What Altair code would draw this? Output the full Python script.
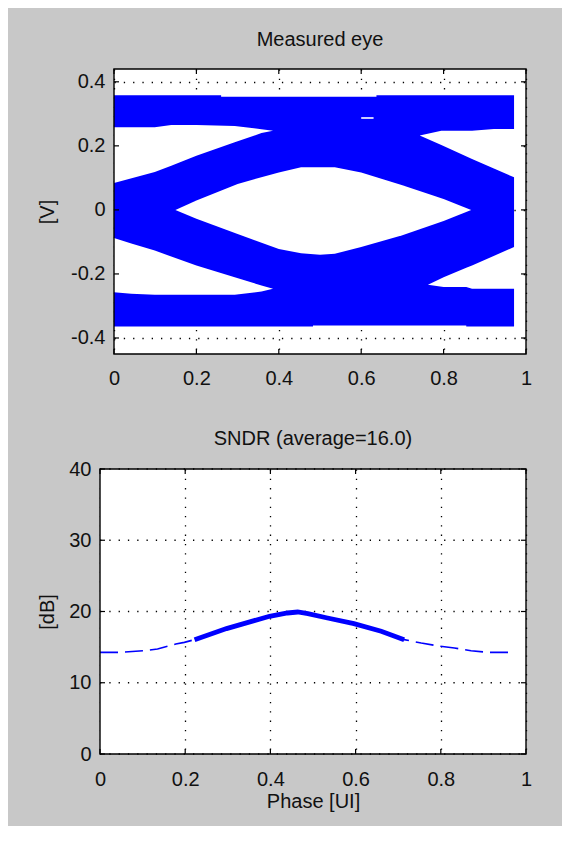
import altair as alt
import pandas as pd

# ---------------- data ----------------
x_ticks = [0, 0.2, 0.4, 0.6, 0.8, 1.0]
eye_y_ticks = [-0.4, -0.2, 0, 0.2, 0.4]
sndr_y_ticks = [0, 10, 20, 30, 40]

# outer extent of the (filled) eye traces
band_x = [0.0, 0.26, 0.26, 0.483, 0.483, 0.637, 0.637, 0.855, 0.855, 0.971]
band_top = [0.358, 0.358, 0.353, 0.353, 0.353, 0.353, 0.358, 0.358, 0.358, 0.358]
band_bottom = [-0.364, -0.364, -0.364, -0.364, -0.361, -0.361, -0.361, -0.361, -0.364, -0.364]

# open (white) regions inside the traces
ul_x = [0.0, 0.099, 0.139, 0.2, 0.293, 0.358, 0.386]
ul_top = [0.258, 0.258, 0.265, 0.265, 0.262, 0.252, 0.247]
ul_bottom = [0.084, 0.118, 0.138, 0.169, 0.211, 0.240, 0.247]

ll_x = [0.0, 0.042, 0.099, 0.2, 0.293, 0.358, 0.386]
ll_top = [-0.088, -0.105, -0.127, -0.174, -0.210, -0.236, -0.246]
ll_bottom = [-0.257, -0.262, -0.265, -0.265, -0.265, -0.255, -0.246]

ur_x = [0.742, 0.7945, 0.869, 0.922, 0.971, 0.985]
ur_top = [0.232, 0.247, 0.247, 0.2525, 0.2525, 0.2525]
ur_bottom = [0.232, 0.203, 0.159, 0.129, 0.102, 0.095]

lr_x = [0.762, 0.8, 0.855, 0.869, 0.971, 0.985]
lr_top = [-0.234, -0.21, -0.181, -0.1735, -0.116, -0.108]
lr_bottom = [-0.234, -0.241, -0.241, -0.246, -0.246, -0.246]

eye_x = [0.149, 0.2, 0.3, 0.4, 0.454, 0.5, 0.536, 0.6, 0.7, 0.8, 0.867]
eye_top = [0.0, 0.029, 0.081, 0.117, 0.133, 0.133, 0.133, 0.117, 0.077, 0.034, 0.0]
eye_bottom = [0.0, -0.028, -0.075, -0.122, -0.135, -0.140, -0.137, -0.116, -0.079, -0.035, 0.0]

gap_x = [0.60]
gap_x2 = [0.63]
gap_y = [0.287]

sndr_x = [0, 0.049, 0.104, 0.135, 0.178, 0.198, 0.222, 0.297, 0.362, 0.398, 0.44,
          0.464, 0.488, 0.534, 0.596, 0.66, 0.714, 0.754, 0.799, 0.832, 0.871, 0.91, 0.965]
sndr_y = [14.27, 14.27, 14.5, 14.74, 15.44, 15.67, 16.05, 17.6, 18.72, 19.33, 19.79,
          19.93, 19.7, 19.09, 18.3, 17.22, 16.05, 15.58, 15.12, 14.88, 14.5, 14.27, 14.27]
thick_from, thick_to = 0.222, 0.714

# ---------------- tables ----------------
band_df = pd.DataFrame({"x": band_x, "top": band_top, "bottom": band_bottom})
rows = []
for name, xs, ts, bs in [("ul", ul_x, ul_top, ul_bottom), ("ll", ll_x, ll_top, ll_bottom),
                         ("ur", ur_x, ur_top, ur_bottom), ("lr", lr_x, lr_top, lr_bottom),
                         ("eye", eye_x, eye_top, eye_bottom)]:
    for a, b, c in zip(xs, ts, bs):
        rows.append({"hole": name, "x": a, "top": b, "bottom": c})
holes_df = pd.DataFrame(rows)
gap_df = pd.DataFrame({"x": gap_x, "x2": gap_x2, "y": gap_y})
sndr_df = pd.DataFrame({"x": sndr_x, "y": sndr_y})
xt_df = pd.DataFrame({"x": x_ticks})
one = pd.DataFrame({"a": [0]})

FONT = "Liberation Sans"
BLUE = "#0000ff"
GRID_DASH = [1.3, 8]
x_label_expr = "datum.value == 0 ? '0' : datum.value == 1 ? '1' : format(datum.value, '.1f')"
y_label_expr = ("datum.value == 0 ? '0' : (datum.value < 0 ? '-' + format(-datum.value, '.1f') "
                ": format(datum.value, '.1f'))")


def frame_layers(x0, W, H, xs, ys, xaxis, yaxis, yt_values):
    """inward tick marks and the box (x0 = left edge of box in view pixels)"""
    yt_df = pd.DataFrame({"y": yt_values})
    X = alt.X("x:Q", scale=xs, axis=xaxis)
    Y = alt.Y("y:Q", scale=ys, axis=yaxis)
    base_x = alt.Chart(xt_df).mark_rule(color="black", strokeWidth=1.2)
    base_y = alt.Chart(yt_df).mark_rule(color="black", strokeWidth=1.2)
    return [
        base_x.encode(x=X, y=alt.value(0), y2=alt.value(5)),
        base_x.encode(x=X, y=alt.value(H - 5), y2=alt.value(H)),
        base_y.encode(y=Y, x=alt.value(x0), x2=alt.value(x0 + 5)),
        base_y.encode(y=Y, x=alt.value(W - 5), x2=alt.value(W)),
        alt.Chart(one).mark_rect(fillOpacity=0, stroke="black", strokeWidth=1.4).encode(
            x=alt.value(x0), x2=alt.value(W), y=alt.value(0), y2=alt.value(H)),
    ]


# ---------------- top: eye ----------------
W1, H1 = 412, 285
xs1 = alt.Scale(domain=[0, 1], nice=False, zero=False)
ys1 = alt.Scale(domain=[-0.45, 0.44], nice=False, zero=False)
xaxis1 = alt.Axis(values=x_ticks, title=None, labelPadding=14, labelExpr=x_label_expr)
yaxis1 = alt.Axis(values=eye_y_ticks, title="[V]", labelPadding=9, titlePadding=13.5,
                  labelExpr=y_label_expr)

band = alt.Chart(band_df).mark_area(color=BLUE, interpolate="linear").encode(
    x=alt.X("x:Q", scale=xs1, axis=xaxis1),
    y=alt.Y("top:Q", scale=ys1, axis=yaxis1, stack=None),
    y2="bottom:Q",
)
holes = alt.Chart(holes_df).mark_area(color="white", interpolate="linear").encode(
    x=alt.X("x:Q", scale=xs1, axis=xaxis1),
    y=alt.Y("top:Q", scale=ys1, axis=yaxis1, stack=None),
    y2="bottom:Q",
    detail="hole:N",
)
gap = alt.Chart(gap_df).mark_rule(color="white", strokeWidth=1.6).encode(
    x=alt.X("x:Q", scale=xs1, axis=xaxis1), x2="x2:Q",
    y=alt.Y("y:Q", scale=ys1, axis=yaxis1),
)
top = alt.layer(band, holes, gap, *frame_layers(0, W1, H1, xs1, ys1, xaxis1, yaxis1, eye_y_ticks)).properties(
    width=W1, height=H1,
    title=alt.Title("Measured eye", frame="group", offset=2, baseline="alphabetic"),
)

# ---------------- bottom: SNDR ----------------
# the box of this panel starts 14 px further left than the one above
SHIFT = 14
W2, H2 = 412, 285
xs2 = alt.Scale(domain=[0, 1], range=[-SHIFT, W2], nice=False, zero=False)
ys2 = alt.Scale(domain=[0, 40], nice=False, zero=False)
xaxis2 = alt.Axis(values=x_ticks, title="Phase [UI]", labelPadding=15.5, titlePadding=2,
                  labelExpr=x_label_expr)
yaxis2 = alt.Axis(values=sndr_y_ticks, title="[dB]", labelPadding=9, titlePadding=11,
                  offset=SHIFT, grid=False)
sy_df = pd.DataFrame({"y": sndr_y_ticks})

strip = alt.Chart(one).mark_rect(color="white").encode(
    x=alt.value(-SHIFT), x2=alt.value(0), y=alt.value(0), y2=alt.value(H2))
hgrid = alt.Chart(sy_df).mark_rule(color="black", strokeWidth=1.3, strokeDash=GRID_DASH).encode(
    y=alt.Y("y:Q", scale=ys2, axis=yaxis2), x=alt.value(-SHIFT), x2=alt.value(W2))
thin = alt.Chart(sndr_df).mark_line(color=BLUE, strokeWidth=1.6, strokeDash=[18, 7]).encode(
    x=alt.X("x:Q", scale=xs2, axis=xaxis2),
    y=alt.Y("y:Q", scale=ys2, axis=yaxis2),
)
thick = alt.Chart(sndr_df).transform_filter(
    (alt.datum.x >= thick_from) & (alt.datum.x <= thick_to)
).mark_line(color=BLUE, strokeWidth=4.8).encode(
    x=alt.X("x:Q", scale=xs2, axis=xaxis2),
    y=alt.Y("y:Q", scale=ys2, axis=yaxis2),
)
bottom = alt.layer(strip, hgrid, thin, thick,
                   *frame_layers(-SHIFT, W2, H2, xs2, ys2, xaxis2, yaxis2, sndr_y_ticks)).properties(
    width=W2, height=H2,
    title=alt.Title("SNDR (average=16.0)", frame="group", offset=-6, baseline="alphabetic", dx=-7),
)

chart = alt.vconcat(top, bottom, spacing=41).properties(
    background="#c8c8c8",
    padding={"left": 29, "top": 22, "right": 22, "bottom": 14},
).configure_axis(
    domain=False, ticks=False, tickSize=0, grid=True, gridColor="black",
    gridDash=GRID_DASH, gridWidth=1.3, gridOpacity=1,
    labelFont=FONT, labelFontSize=20, labelColor="#111111", labelFlush=False,
    titleFont=FONT, titleFontSize=20, titleFontWeight="normal", titleColor="#111111",
).configure_view(stroke=None, fill="white").configure_title(
    font=FONT, fontSize=20, fontWeight="normal", color="#111111", anchor="middle",
)

chart.save("out.html", embed_options={"renderer": "svg", "actions": False})
